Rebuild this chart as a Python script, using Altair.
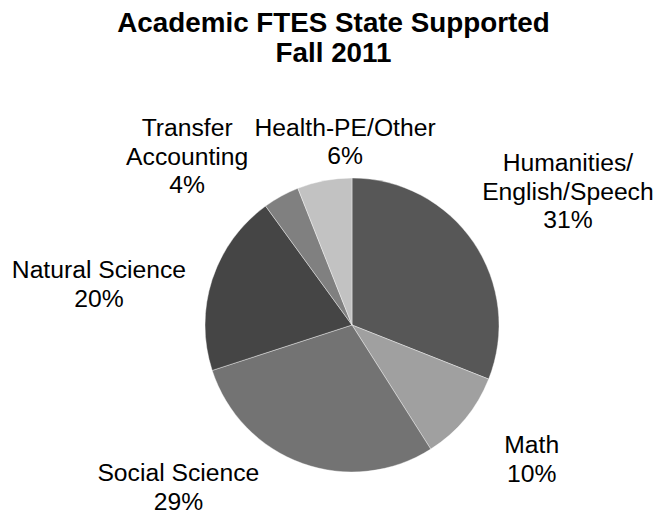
import altair as alt
import pandas as pd

# ---- data ----
categories = ["Humanities/English/Speech", "Math", "Social Science",
              "Natural Science", "Transfer Accounting", "Health-PE/Other"]
label_names = ["Humanities/\nEnglish/Speech", "Math", "Social Science",
               "Natural Science", "Transfer\nAccounting", "Health-PE/Other"]
shares = [31, 10, 29, 20, 4, 6]

# ---- styling / label layout (kept separate from the data) ----
colors = ["#575757", "#a0a0a0", "#737373", "#454545", "#808080", "#c2c2c2"]
label_angle_nudge = [-2.7, -5.9, 29.8, -5.7, -11.1, 8.8]  # degrees from slice middle
label_radius = [270, 216, 228, 259, 257, 198]             # px from pie centre (first line)
title_text = "Academic FTES State Supported\nFall 2011"

CX, CY, R = 352, 325, 147

df = pd.DataFrame({
    "category": categories,
    "share": shares,
    "order": list(range(len(categories))),
    "label": [f"{n}\n{s}%" for n, s in zip(label_names, shares)],
    "nudge": label_angle_nudge,
    "lr": label_radius,
})

base = alt.Chart(df)

pie = base.mark_arc(outerRadius=R, stroke="#ffffff", strokeWidth=0.4).encode(
    theta=alt.Theta("share:Q", stack=True),
    order=alt.Order("order:Q"),
    color=alt.Color("category:N",
                    scale=alt.Scale(domain=categories, range=colors),
                    legend=None),
    x=alt.value(CX),
    y=alt.value(CY),
)

labels = base.transform_joinaggregate(
    total="sum(share)"
).transform_window(
    cum="sum(share)", sort=[alt.SortField("order")], frame=[None, 0]
).transform_calculate(
    mid_angle="((datum.cum - datum.share/2)/datum.total)*2*PI + datum.nudge*PI/180"
).mark_text(
    font="Liberation Sans", fontSize=24.7, lineBreak="\n", lineHeight=28.5,
    align="center", baseline="middle", color="#000000", dy=1.5,
).encode(
    theta=alt.Theta("mid_angle:Q", scale=None, stack=None),
    radius=alt.Radius("lr:Q", scale=None),
    text="label:N",
    x=alt.value(CX),
    y=alt.value(CY),
)

title = alt.Chart(pd.DataFrame({"t": [title_text]})).mark_text(
    font="Liberation Sans", fontSize=27.8, fontWeight="bold",
    lineBreak="\n", lineHeight=30, align="center", baseline="middle",
    color="#000000",
).encode(
    text="t:N",
    x=alt.value(333.5),
    y=alt.value(24),
)

chart = alt.layer(pie, labels, title).properties(
    width=667, height=514,
    autosize=alt.AutoSizeParams(type="none"),
    padding=0,
    background="#ffffff",
).configure_view(stroke=None)

chart.save("out.html", embed_options={"renderer": "svg", "actions": False})
